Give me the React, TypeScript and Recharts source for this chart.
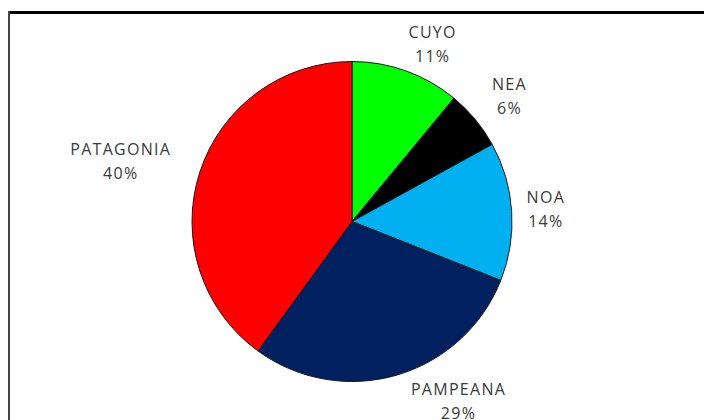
import React from "react";
import { PieChart, Pie, Cell } from "recharts";

const regions = ["CUYO", "NEA", "NOA", "PAMPEANA", "PATAGONIA"];
const shares = [11, 6, 14, 29, 40];
const colors = ["#00ff00", "#000000", "#00b0f0", "#002060", "#ff0000"];
// small layout nudges for label boxes (px), mimicking the spreadsheet's best-fit placement
const labelNudge: [number, number][] = [
  [16, 3],
  [14, -4],
  [8, -2],
  [48, -9],
  [-27, -3],
];

const data = regions.map((name, i) => ({ name, value: shares[i] }));

const RAD = Math.PI / 180;

const renderLabel = (props: any) => {
  const { cx, cy, midAngle, outerRadius, index, name, percent } = props;
  const dx = Math.cos(-midAngle * RAD);
  const dy = Math.sin(-midAngle * RAD);
  const w = name.length * 9.5;
  const h = 44;
  const r = outerRadius + 12;
  const x = cx + r * dx + (dx * w) / 2 + labelNudge[index][0];
  const y = cy + r * dy + (dy * h) / 2 + labelNudge[index][1];
  const pct = Math.round(percent * 100) + "%";
  return (
    <text
      x={x}
      y={y}
      textAnchor="middle"
      fill="#3a3a3a"
      fontFamily="'Open Sans', 'Noto Sans', sans-serif"
      fontSize={16}
      letterSpacing={1.3}
    >
      <tspan x={x} dy={-4}>
        {name}
      </tspan>
      <tspan x={x} dy={24}>
        {pct}
      </tspan>
    </text>
  );
};

export default function App() {
  return (
    <div
      style={{
        position: "absolute",
        left: 0,
        top: 0,
        width: 704,
        height: 420,
        background: "#ffffff",
        overflow: "hidden",
      }}
    >
      <div
        style={{
          position: "absolute",
          left: 8,
          top: 11,
          right: 0,
          height: 2.5,
          background: "#000000",
        }}
      />
      <div
        style={{
          position: "absolute",
          left: 8,
          top: 11,
          width: 2,
          bottom: 0,
          background: "#444444",
        }}
      />
      <div style={{ position: "absolute", left: 0, top: 0 }}>
        <PieChart width={704} height={420} margin={{ top: 0, right: 0, bottom: 0, left: 0 }}>
          <Pie
            data={data}
            dataKey="value"
            nameKey="name"
            cx={352}
            cy={221.5}
            outerRadius={160}
            startAngle={90}
            endAngle={-270}
            stroke="#1a1a1a"
            strokeWidth={1}
            label={renderLabel}
            labelLine={false}
            isAnimationActive={false}
          >
            {data.map((d, i) => (
              <Cell key={d.name} fill={colors[i]} />
            ))}
          </Pie>
        </PieChart>
      </div>
    </div>
  );
}
